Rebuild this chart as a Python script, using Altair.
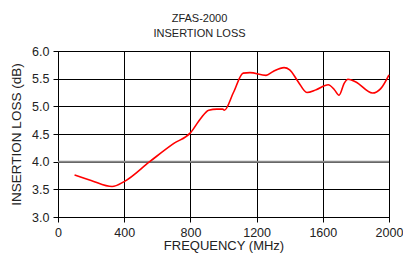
import altair as alt
import pandas as pd

freq_mhz = [100, 200, 327, 400, 554, 700, 800, 862, 911, 960, 995, 1005,
            1060, 1119, 1160, 1257, 1300, 1366, 1400, 1450, 1504, 1560,
            1633, 1670, 1698, 1730, 1752, 1800, 1900, 1950, 2000]
loss_db = [3.76, 3.66, 3.55, 3.64, 4.00, 4.33, 4.52, 4.78, 4.93, 4.95, 4.95, 4.93,
           5.25, 5.60, 5.61, 5.56, 5.63, 5.70, 5.66, 5.45, 5.25, 5.30,
           5.39, 5.30, 5.20, 5.42, 5.49, 5.44, 5.24, 5.32, 5.57]
x_ticks = [0, 400, 800, 1200, 1600, 2000]
y_ticks = [3.0, 3.5, 4.0, 4.5, 5.0, 5.5, 6.0]
grey_line = [4.0]

df = pd.DataFrame({"f": freq_mhz, "il": loss_db})
FONT = "Liberation Sans"

x_enc = alt.X("f:Q", scale=alt.Scale(domain=[0, 2000], nice=False),
              axis=alt.Axis(values=x_ticks, title="FREQUENCY (MHz)", format="d",
                            tickSize=5, labelPadding=4, titlePadding=1,
                            titleFontSize=13,
                            labelOverlap=False, labelFlush=False,
                            domainColor="black", tickColor="black",
                            gridColor="black", labelColor="#222", titleColor="#222"))
y_enc = alt.Y("il:Q", scale=alt.Scale(domain=[3.0, 6.0], nice=False, zero=False),
              axis=alt.Axis(values=y_ticks, title="INSERTION LOSS (dB)", format=".1f",
                            tickSize=5, labelPadding=4, titlePadding=8,
                            labelOverlap=False, labelFlush=False,
                            domainColor="black", tickColor="black",
                            gridColor="black", labelColor="#222", titleColor="#222"))

line = alt.Chart(df).mark_line(color="#ff0000", strokeWidth=1.6,
                               interpolate="monotone").encode(x=x_enc, y=y_enc)

grey = alt.Chart(pd.DataFrame({"il": grey_line})).mark_rule(
    color="#8a8a8a", strokeWidth=2).encode(y=y_enc)

chart = alt.layer(grey, line).properties(
    width=331, height=166,
    autosize=alt.AutoSizeParams(type="none"),
    padding={"left": 50, "top": 43, "right": 14, "bottom": 39},
    title=alt.TitleParams(["ZFAS-2000", "INSERTION LOSS"], fontSize=11,
                          font=FONT, fontWeight="normal", color="#222",
                          lineHeight=15, offset=6, dx=-24, anchor="middle"),
).configure_axis(
    labelFont=FONT, titleFont=FONT, labelFontSize=12.5, titleFontSize=13.5,
    titleFontWeight="normal", gridOpacity=1, gridWidth=1,
).configure_view(stroke="black", strokeWidth=1)

chart.save("out.html", embed_options={"renderer": "svg", "actions": False})
